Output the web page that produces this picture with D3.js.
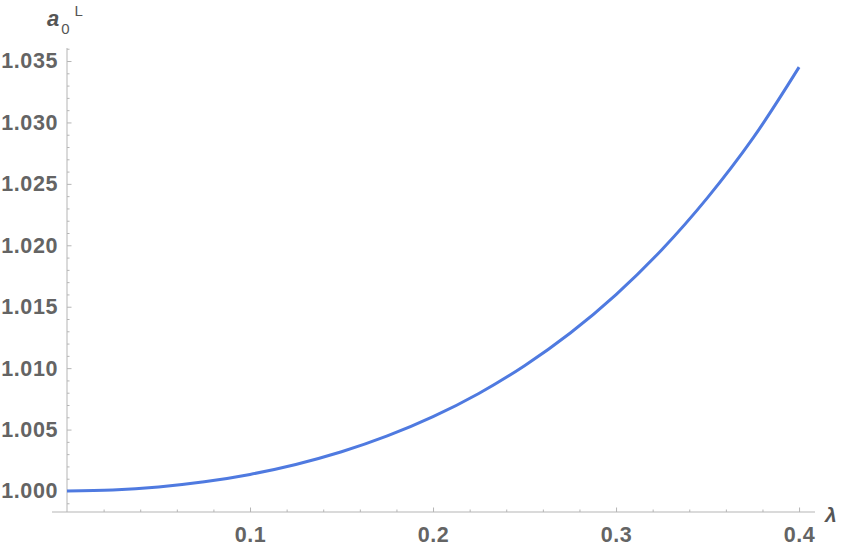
<!DOCTYPE html>
<html>
<head>
<meta charset="utf-8">
<script src="https://cdn.jsdelivr.net/npm/d3@7"></script>
<style>
  body { margin: 0; background: #fff; }
  .tick text { font-family: "Liberation Sans", Arial, sans-serif; font-weight: bold; font-size: 21.5px; letter-spacing: 0.6px; fill: #646464; }
  .lab { font-family: "Liberation Sans", Arial, sans-serif; fill: #555; }
</style>
</head>
<body>
<div class="chart"></div>
<script>
// data
var lambdaValues = [0, 0.025, 0.05, 0.075, 0.1, 0.125, 0.15, 0.175, 0.2, 0.225, 0.25, 0.275, 0.3, 0.325, 0.35, 0.375, 0.4];
var a0Values = [1.00000, 1.00008, 1.00033, 1.00075, 1.00135, 1.00216, 1.00319, 1.00448, 1.00605, 1.00794, 1.01020, 1.01286, 1.01599, 1.01964, 1.02388, 1.02876, 1.03450];

var xMajorTicks = [0.1, 0.2, 0.3, 0.4];
var xMinorTicks = [0.02, 0.04, 0.06, 0.08, 0.12, 0.14, 0.16, 0.18, 0.22, 0.24, 0.26, 0.28, 0.32, 0.34, 0.36, 0.38];
var yMajorTicks = [1.000, 1.005, 1.010, 1.015, 1.020, 1.025, 1.030, 1.035];
var yMinorTicks = [0.999, 1.001, 1.002, 1.003, 1.004, 1.006, 1.007, 1.008, 1.009, 1.011, 1.012, 1.013, 1.014,
                   1.016, 1.017, 1.018, 1.019, 1.021, 1.022, 1.023, 1.024, 1.026, 1.027, 1.028, 1.029,
                   1.031, 1.032, 1.033, 1.034, 1.036];

var width = 843, height = 551;
var axisColor = "#b5b5b5";

var svg = d3.select(".chart")
    .append("svg")
    .attr("width", width)
    .attr("height", height);

// scales (axes cross at lambda = 0 horizontally, below 1.000 vertically)
var x = d3.scaleLinear().domain([-0.0082, 0.4087]).range([52, 815]);
var y = d3.scaleLinear().domain([0.99829, 1.03606]).range([512, 48]);
var xAxisY = y(0.99829);
var yAxisX = x(0);

// x axis
var xAxis = svg.append("g")
    .attr("transform", "translate(0," + xAxisY + ")")
    .call(d3.axisBottom(x).tickValues(xMajorTicks).tickSize(-4.5).tickPadding(14.5)
        .tickFormat(d3.format(".1f")));
xAxis.select(".domain").remove();
xAxis.selectAll(".tick line").attr("stroke", axisColor);

var xMinor = svg.append("g")
    .attr("transform", "translate(0," + xAxisY + ")")
    .call(d3.axisBottom(x).tickValues(xMinorTicks).tickSize(-2.5).tickFormat(""));
xMinor.select(".domain").remove();
xMinor.selectAll(".tick line").attr("stroke", axisColor);

svg.append("line")
    .attr("x1", x.range()[0]).attr("x2", x.range()[1])
    .attr("y1", xAxisY).attr("y2", xAxisY)
    .attr("stroke", axisColor).attr("stroke-width", 1);

// y axis
var yAxis = svg.append("g")
    .attr("transform", "translate(" + yAxisX + ",0)")
    .call(d3.axisLeft(y).tickValues(yMajorTicks).tickSize(-4.5).tickPadding(9)
        .tickFormat(d3.format(".3f")));
yAxis.select(".domain").remove();
yAxis.selectAll(".tick line").attr("stroke", axisColor);

var yMinor = svg.append("g")
    .attr("transform", "translate(" + yAxisX + ",0)")
    .call(d3.axisLeft(y).tickValues(yMinorTicks).tickSize(-2.5).tickFormat(""));
yMinor.select(".domain").remove();
yMinor.selectAll(".tick line").attr("stroke", axisColor);

svg.append("line")
    .attr("x1", yAxisX).attr("x2", yAxisX)
    .attr("y1", y.range()[0]).attr("y2", y.range()[1])
    .attr("stroke", axisColor).attr("stroke-width", 1);

// curve
var line = d3.line()
    .x(function (d, i) { return x(lambdaValues[i]); })
    .y(function (d) { return y(d); })
    .curve(d3.curveCatmullRom);

svg.append("path")
    .datum(a0Values)
    .attr("d", line)
    .attr("fill", "none")
    .attr("stroke", "#4f7ae0")
    .attr("stroke-width", 3);

// axis labels
var yl = svg.append("text").attr("class", "lab").attr("x", 47).attr("y", 26);
yl.append("tspan").attr("font-style", "italic").attr("font-weight", "bold").attr("font-size", "22px").text("a");
yl.append("tspan").attr("dx", 2).attr("dy", 8).attr("font-size", "15px").text("0");
yl.append("tspan").attr("dx", 5).attr("dy", -18).attr("font-size", "15px").text("L");

svg.append("text").attr("class", "lab")
    .attr("x", 825).attr("y", 522)
    .attr("font-style", "italic").attr("font-weight", "bold").attr("font-size", "21px")
    .text("λ");
</script>
</body>
</html>
